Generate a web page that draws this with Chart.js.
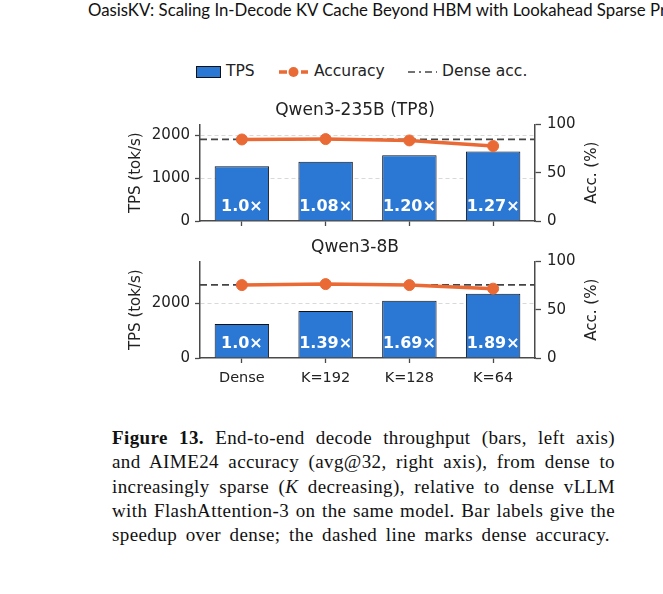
<!DOCTYPE html>
<html>
<head>
<meta charset="utf-8">
<script src="https://cdn.jsdelivr.net/npm/chart.js@4.4.1/dist/chart.umd.min.js"></script>
<style>
  body { margin: 0; width: 663px; height: 594px; overflow: hidden; background: #fff; position: relative; }
  #header { position: absolute; left: 88px; top: 0px; font: 16.8px Lato, sans-serif; color: #111; white-space: nowrap; line-height: 20px; }
  .lg { position: absolute; top: 62px; font: 15.5px "DejaVu Sans", sans-serif; color: #222; line-height: 18px; white-space: nowrap; }
  .lg svg { position: absolute; }
  canvas { position: absolute; }
  #caption { position: absolute; left: 112px; top: 426px; width: 503px; font: 19px "Liberation Serif", serif; color: #111; line-height: 24.3px; letter-spacing: 0.4px; }
  #caption div { white-space: nowrap; text-align: justify; text-align-last: justify; }
</style>
</head>
<body>
<div id="header">OasisKV: Scaling In-Decode KV Cache Beyond HBM with Lookahead Sparse Pre</div>

<div class="lg" style="left:196px;"><svg width="26" height="14" style="left:0;top:3px"><rect x="0.5" y="1.5" width="24" height="11" fill="#2b78d4" stroke="#111" stroke-width="1"/></svg><span style="margin-left:30px">TPS</span></div>
<div class="lg" style="left:279px;"><svg width="30" height="14" style="left:0;top:3px"><line x1="0" y1="7" x2="29" y2="7" stroke="#ea6a35" stroke-width="3.5" stroke-dasharray="8,3"/><circle cx="14.5" cy="7" r="5" fill="#ea6a35"/></svg><span style="margin-left:35px">Accuracy</span></div>
<div class="lg" style="left:408px;"><svg width="30" height="14" style="left:0;top:3px"><line x1="0" y1="7" x2="29" y2="7" stroke="#444" stroke-width="1.6" stroke-dasharray="7,4,2,4"/></svg><span style="margin-left:34px">Dense acc.</span></div>

<canvas id="chart235" width="510" height="141" style="left:100px;top:100px;width:510px;height:141px"></canvas>
<canvas id="chart8" width="510" height="151" style="left:100px;top:237px;width:510px;height:151px"></canvas>

<div id="caption">
  <div><b>Figure 13.</b> End-to-end decode throughput (bars, left axis)</div>
  <div>and AIME24 accuracy (avg@32, right axis), from dense to</div>
  <div>increasingly sparse (<i>K</i> decreasing), relative to dense vLLM</div>
  <div>with FlashAttention-3 on the same model. Bar labels give the</div>
  <div style="width:498px">speedup over dense; the dashed line marks dense accuracy.</div>
</div>

<script>
const categories = ['Dense', 'K=192', 'K=128', 'K=64'];

const tps235 = [1275, 1380, 1530, 1620];
const acc235 = [84.4, 84.8, 83.4, 77.6];
const dense235 = 84.4;
const speedup235 = ['1.0×', '1.08×', '1.20×', '1.27×'];
const tpsTicks235 = [0, 1000, 2000];

const tps8 = [1235, 1710, 2090, 2340];
const acc8 = [75.5, 76.5, 75.5, 71.8];
const dense8 = 75.8;
const speedup8 = ['1.0×', '1.39×', '1.69×', '1.89×'];
const tpsTicks8 = [0, 2000];

const accTicks = [0, 50, 100];

const FONT = '"DejaVu Sans", sans-serif';
const AX = '#4a4a4a';
const BLUE = '#2b78d4';
const ORANGE = '#ea6a35';

// dashed dense line, bar labels and the right axis title
const overlay = {
    id: 'overlay',
    beforeDatasetsDraw(chart, args, opts) {
        const { ctx, chartArea, scales } = chart;
        const y = scales.y1.getPixelForValue(opts.dense);
        ctx.save();
        ctx.strokeStyle = '#444';
        ctx.lineWidth = 1.8;
        ctx.setLineDash([7, 4]);
        ctx.beginPath();
        ctx.moveTo(chartArea.left, y);
        ctx.lineTo(chartArea.right, y);
        ctx.stroke();
        ctx.restore();
    },
    afterDatasetsDraw(chart, args, opts) {
        const { ctx, scales } = chart;
        const meta = chart.getDatasetMeta(1);
        ctx.save();
        ctx.fillStyle = '#fff';
        ctx.font = 'bold 16px ' + FONT;
        ctx.textAlign = 'center';
        ctx.textBaseline = 'middle';
        meta.data.forEach((bar, i) => {
            ctx.fillText(opts.labels[i], bar.x, scales.y.getPixelForValue(0) - 14);
        });
        ctx.restore();
    },
    afterDraw(chart) {
        const { ctx, chartArea, scales } = chart;
        ctx.save();
        ctx.translate(scales.y1.right - 18, (chartArea.top + chartArea.bottom) / 2);
        ctx.rotate(-Math.PI / 2);
        ctx.fillStyle = '#222';
        ctx.font = '15px ' + FONT;
        ctx.textAlign = 'center';
        ctx.textBaseline = 'middle';
        ctx.fillText('Acc. (%)', 0, 0);
        ctx.restore();
    }
};

function makeChart(id, title, tps, acc, dense, labels, tpsMax, tpsTicks, showX) {
    return new Chart(document.getElementById(id), {
        type: 'bar',
        data: {
            labels: categories,
            datasets: [{
                type: 'line',
                label: 'Accuracy',
                data: acc,
                yAxisID: 'y1',
                borderColor: ORANGE,
                borderWidth: 3.5,
                pointRadius: 5.5,
                pointBackgroundColor: ORANGE,
                pointBorderColor: ORANGE,
                pointBorderWidth: 1,
            }, {
                label: 'TPS',
                data: tps,
                yAxisID: 'y',
                backgroundColor: BLUE,
                borderColor: '#111',
                borderWidth: 1,
                barPercentage: 0.65,
                categoryPercentage: 1,
            }]
        },
        options: {
            responsive: false,
            animation: false,
            layout: { padding: 0 },
            plugins: {
                legend: { display: false },
                tooltip: { enabled: false },
                title: {
                    display: true,
                    text: title,
                    color: '#222',
                    font: { family: FONT, size: 17, weight: 'normal' },
                    padding: { top: 0, bottom: 4 },
                },
                overlay: { dense: dense, labels: labels },
            },
            scales: {
                x: {
                    offset: true,
                    grid: { offset: false, drawOnChartArea: false, drawTicks: true, tickLength: 5, color: AX, tickWidth: 1.3 },
                    border: { color: AX, width: 1.5 },
                    ticks: { display: showX, color: '#222', font: { family: FONT, size: 14.5 }, padding: 7 },
                    afterFit: (s) => { s.height = showX ? 30 : 20; },
                },
                y: {
                    position: 'left',
                    min: 0,
                    max: tpsMax,
                    afterBuildTicks: (s) => { s.ticks = tpsTicks.map(v => ({ value: v })); },
                    grid: {
                        color: (c) => (c.tick && c.tick.value === 0 ? 'rgba(0,0,0,0)' : '#d9d9d9'),
                        tickColor: AX,
                        tickLength: 5,
                        tickWidth: 1.3,
                    },
                    border: { color: AX, width: 1.5, dash: [4, 3] },
                    ticks: { color: '#222', font: { family: FONT, size: 15 }, padding: 5, callback: (v) => String(v) },
                    title: {
                        display: true,
                        text: 'TPS (tok/s)',
                        color: '#222',
                        font: { family: FONT, size: 15 },
                        padding: { top: 27, bottom: 0 },
                    },
                    afterFit: (s) => { s.width = 100; },
                },
                y1: {
                    position: 'right',
                    min: 0,
                    max: 100,
                    afterBuildTicks: (s) => { s.ticks = accTicks.map(v => ({ value: v })); },
                    grid: { drawOnChartArea: false, drawTicks: true, tickLength: 6, color: AX, tickWidth: 1.3 },
                    border: { color: AX, width: 1.5 },
                    ticks: { color: '#222', font: { family: FONT, size: 15 }, padding: 6, callback: (v) => String(v) },
                    afterFit: (s) => { s.width = 75; },
                },
            }
        },
        plugins: [overlay]
    });
}

makeChart('chart235', 'Qwen3-235B (TP8)', tps235, acc235, dense235, speedup235, 2250, tpsTicks235, false);
makeChart('chart8', 'Qwen3-8B', tps8, acc8, dense8, speedup8, 3520, tpsTicks8, true);
</script>
</body>
</html>
